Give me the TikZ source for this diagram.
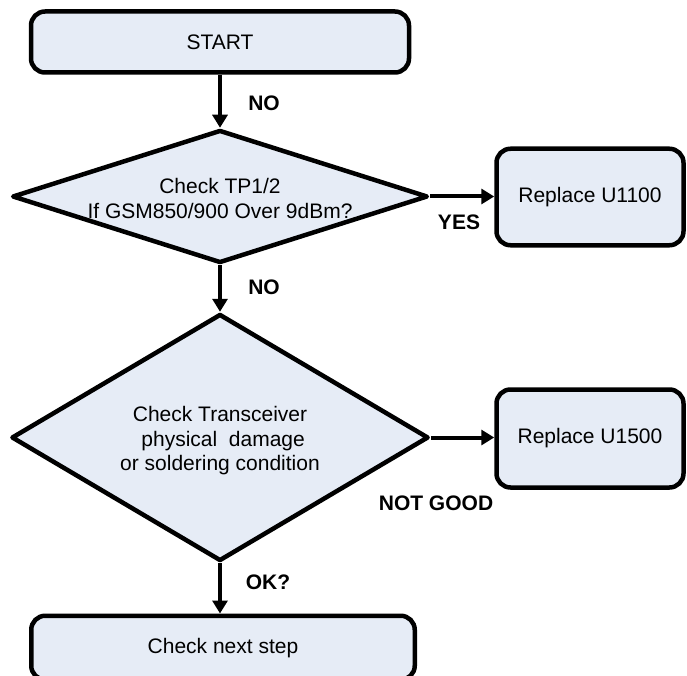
\documentclass[tikz,border=0pt]{standalone}
\usepackage{fontspec}
\setmainfont{Liberation Sans}
\usetikzlibrary{shapes.geometric,arrows.meta}
\definecolor{boxfill}{RGB}{230,236,246}
\begin{document}
\begin{tikzpicture}[x=1pt,y=-1pt,
  box/.style={draw=black,line width=4.5pt,fill=boxfill,rounded corners=14pt,inner sep=0pt,font=\fontsize{21}{24}\selectfont,align=center},
  dec/.style={draw=black,line width=4.5pt,fill=boxfill,diamond,inner sep=0pt,line join=round},
  conn/.style={line width=4pt,-{Triangle[length=13pt,width=15pt]}},
  lab/.style={font=\bfseries\fontsize{21}{24}\selectfont,inner sep=0pt},
  dtext/.style={font=\fontsize{21}{24.5}\selectfont,align=center,inner sep=0pt}]
\useasboundingbox (0,0) rectangle (687,676);
\node[box,minimum width=378pt,minimum height=61pt] (start) at (220,42) {START};
\node[dec,minimum width=415.5pt,minimum height=133pt] (d1) at (220,196.5) {};
\node[dtext] (t1) at (220,198.5) {Check TP1/2\\If GSM850/900 Over 9dBm?};
\node[box,minimum width=187pt,minimum height=96.5pt] (r1) at (590,197) {\raisebox{-1.5pt}{Replace U1100}};
\node[dec,minimum width=417pt,minimum height=247pt] (d2) at (220,437.5) {};
\node[dtext] (t2) at (220,441) {Check Transceiver\\\hspace*{0.3em}physical~~damage\\or soldering condition};
\node[box,minimum width=187pt,minimum height=98pt] (r2) at (590,438.5) {Replace U1500};
\node[box,minimum width=383.5pt,minimum height=64pt,anchor=north] (next) at (223,613.5) {\raisebox{2.5pt}{Check next step}};
\draw[conn] (start.south) -- (d1.north);
\draw[conn] (d1.east) -- (r1.west |- d1.east);
\draw[conn] (d1.south) -- (d2.north);
\draw[conn] (d2.east) -- (r2.west |- d2.east);
\draw[conn] (d2.south) -- (d2.south |- next.north);
\node[lab] (l1) at (264,103) {NO};
\node[lab] (l2) at (459,222) {YES};
\node[lab] (l3) at (264,287) {NO};
\node[lab] (l4) at (436,503) {NOT GOOD};
\node[lab] (l5) at (268,582) {OK?};
\end{tikzpicture}
\end{document}
